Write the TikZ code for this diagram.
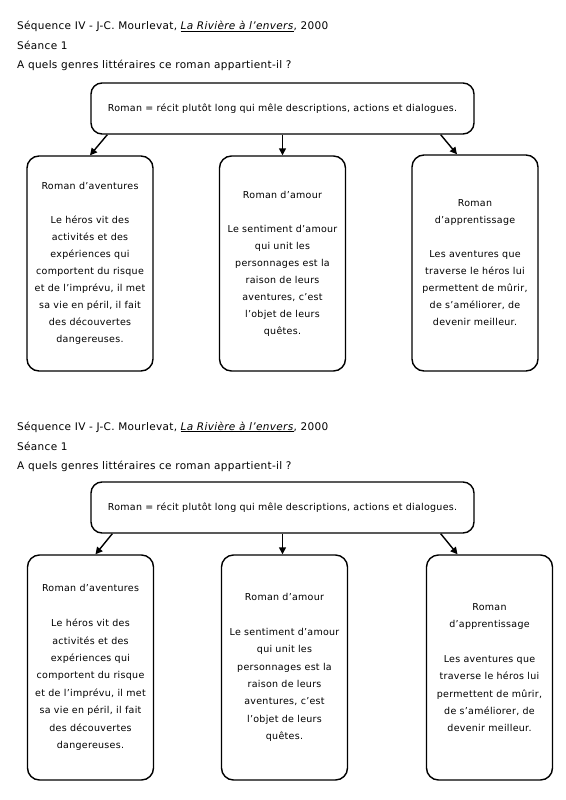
\documentclass[tikz,border=0pt]{standalone}
\usepackage{fontspec}
\setmainfont{DejaVu Sans}[LetterSpace=3]
\usetikzlibrary{arrows.meta}
\begin{document}
\begin{tikzpicture}[x=1pt,y=-1pt,
  hdr/.style={anchor=base west, inner sep=0, font=\fontsize{10.5}{12}\selectfont},
  topbox/.style={draw, line width=1.4pt, rounded corners=11pt, minimum width=383pt, minimum height=51pt, inner sep=0, font=\fontsize{9.5}{17}\selectfont},
  genre/.style={draw, line width=1.4pt, rounded corners=12pt, minimum width=126pt, inner sep=0, align=center, font=\fontsize{9.5}{17}\selectfont},
  link/.style={line width=1.4pt, -{Triangle[length=7pt,width=7pt]}}]
\useasboundingbox (0,0) rectangle (565,800);
\fill[white] (0,0) rectangle (565,800);
% ---------- upper copy ----------
\node[hdr] (h1a) at (17,30) {Séquence IV - J-C. Mourlevat, \underline{\textit{La Rivière à l’envers}}, 2000};
\node[hdr] (h1b) at (17,50) {Séance 1};
\node[hdr] (h1c) at (17,69) {A quels genres littéraires ce roman appartient-il ?};
\node[topbox] (t1) at (282.5,108.5) {Roman = récit plutôt long qui mêle descriptions, actions et dialogues.};
\node[genre, minimum height=215pt] (l1) at (90,263.5) {Roman d’aventures\\[17pt]Le héros vit des\\activités et des\\expériences qui\\comportent du risque\\et de l’imprévu, il met\\sa vie en péril, il fait\\des découvertes\\dangereuses.};
\node[genre, minimum height=215pt] (m1) at (282.5,263.5) {Roman d’amour\\[17pt]Le sentiment d’amour\\qui unit les\\personnages est la\\raison de leurs\\aventures, c’est\\l’objet de leurs\\quêtes.};
\node[genre, minimum height=216pt] (r1) at (475,263) {Roman\\d’apprentissage\\[17pt]Les aventures que\\traverse le héros lui\\permettent de mûrir,\\de s’améliorer, de\\devenir meilleur.};
\draw[link] ([xshift=17pt]t1.south west) -- ([xshift=0pt]l1.north);
\draw[link] (t1.south) -- (m1.north);
\draw[link] ([xshift=-34pt]t1.south east) -- ([xshift=-18pt]r1.north);
% ---------- lower copy ----------
\node[hdr] (h2a) at (17,430) {Séquence IV - J-C. Mourlevat, \underline{\textit{La Rivière à l’envers}}, 2000};
\node[hdr] (h2b) at (17,450) {Séance 1};
\node[hdr] (h2c) at (17,469) {A quels genres littéraires ce roman appartient-il ?};
\node[topbox] (t2) at (282.5,507.5) {Roman = récit plutôt long qui mêle descriptions, actions et dialogues.};
\node[genre, minimum height=225pt, font=\fontsize{9.5}{17.4}\selectfont] (l2) at (90.5,667.5) {Roman d’aventures\\[17.4pt]Le héros vit des\\activités et des\\expériences qui\\comportent du risque\\et de l’imprévu, il met\\sa vie en péril, il fait\\des découvertes\\dangereuses.};
\node[genre, minimum height=225pt, font=\fontsize{9.5}{17.4}\selectfont] (m2) at (284.5,667.5) {Roman d’amour\\[17.4pt]Le sentiment d’amour\\qui unit les\\personnages est la\\raison de leurs\\aventures, c’est\\l’objet de leurs\\quêtes.};
\node[genre, minimum height=225pt, font=\fontsize{9.5}{17.4}\selectfont] (r2) at (489.5,667.5) {Roman\\d’apprentissage\\[17.4pt]Les aventures que\\traverse le héros lui\\permettent de mûrir,\\de s’améliorer, de\\devenir meilleur.};
\draw[link] ([xshift=22pt]t2.south west) -- ([xshift=5pt]l2.north);
\draw[link] (t2.south) -- ([xshift=-2pt]m2.north);
\draw[link] ([xshift=-34pt]t2.south east) -- ([xshift=-32pt]r2.north);
\end{tikzpicture}
\end{document}
